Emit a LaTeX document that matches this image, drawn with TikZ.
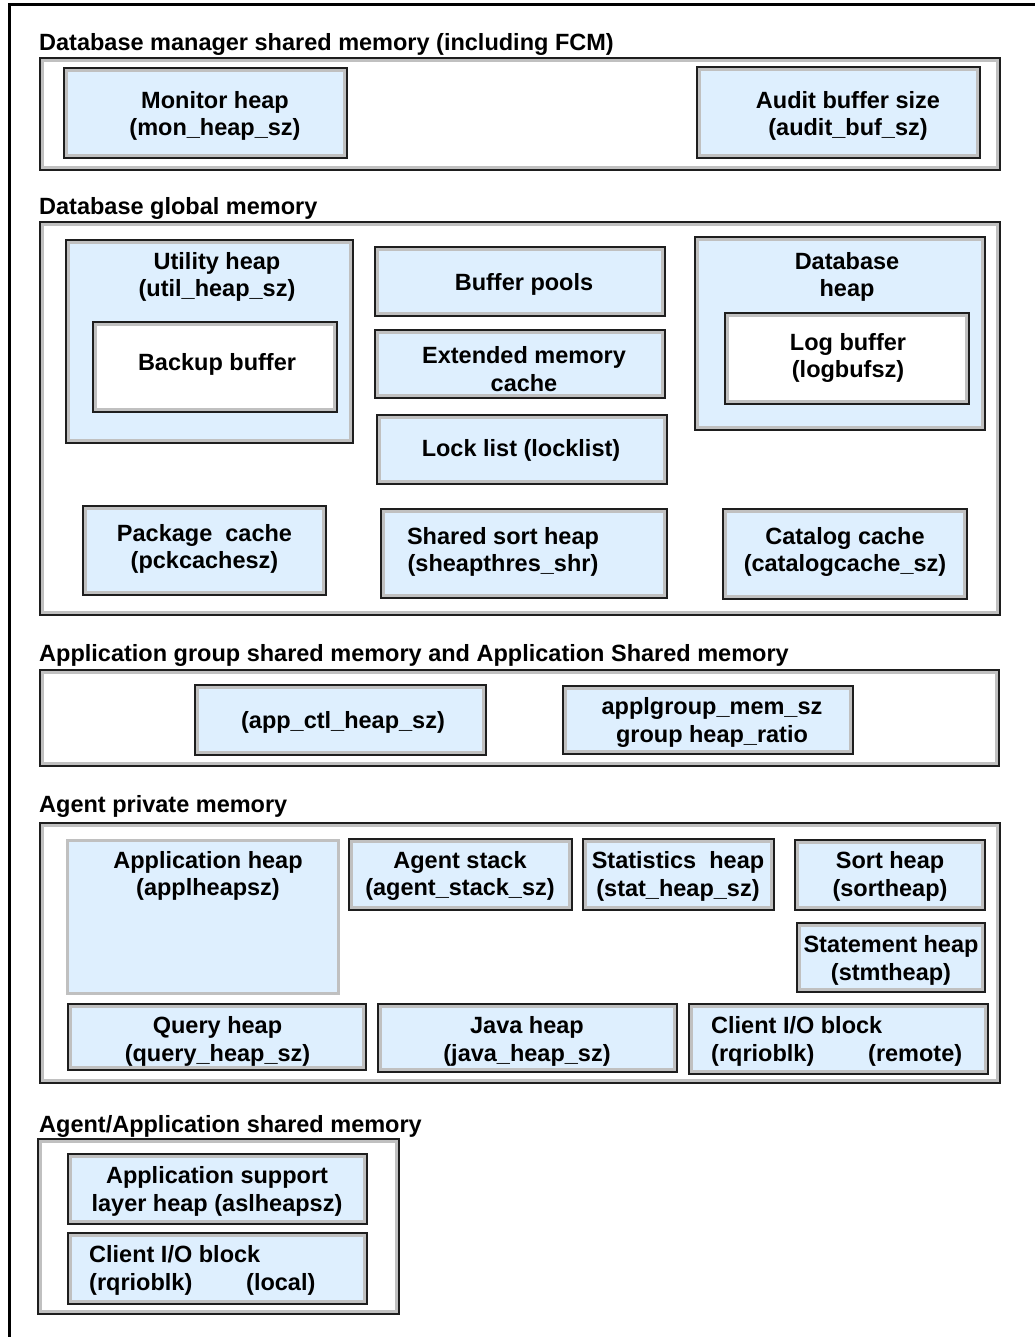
\documentclass[tikz,border=0pt]{standalone}
\usepackage{fontspec}
\setmainfont{Liberation Sans}
\usetikzlibrary{fit}
\definecolor{heapblue}{RGB}{222,239,254}
\definecolor{rimgray}{RGB}{192,192,192}
\definecolor{edgedark}{RGB}{30,30,30}
\tikzset{
  area/.style={draw=edgedark, line width=2pt, fill=white, inner sep=0pt, outer sep=0pt},
  heap/.style={area, fill=heapblue},
  plainheap/.style={draw=rimgray, line width=3pt, fill=heapblue, inner sep=0pt, outer sep=0pt},
  rim/.style={draw=rimgray, line width=3pt},
  lbl/.style={font=\bfseries\fontsize{23.5}{27.5}\selectfont, align=center, inner sep=0pt, yshift=-2pt},
  lbll/.style={lbl, align=left, anchor=west},
  ttl/.style={font=\bfseries\fontsize{23.5}{27.5}\selectfont, anchor=base west, inner sep=0pt},
}
% a framed block with a light inner rim: style, name, two opposite corners
\newcommand\block[4]{%
  \node[#1, fit={#3 #4}] (#2) {};
  \draw[rim] ([xshift=2.5pt,yshift=-2.5pt]#2.north west) rectangle ([xshift=-2.5pt,yshift=2.5pt]#2.south east);
}
\begin{document}
\begin{tikzpicture}[x=1pt, y=-1pt]
\useasboundingbox (0,0) rectangle (1034,1337);
\draw[line width=3pt] (9,1340) -- (9,5) -- (1040,5);

% Database manager shared memory
\node[ttl] (t1) at (39,51) {Database manager shared memory (including FCM)};
\block{area}{dbm}{(40,58)}{(1000,170)}
\block{heap}{mon}{(64,68)}{(347,158)}
\node[lbl] (monT) at (215,114) {Monitor heap\\(mon\_heap\_sz)};
\block{heap}{aud}{(697,67)}{(980,158)}
\node[lbl] (audT) at (848,114) {Audit buffer size\\(audit\_buf\_sz)};

% Database global memory
\node[ttl] (t2) at (39,215) {Database global memory};
\block{area}{dbg}{(40,222)}{(1000,615)}
\block{heap}{util}{(66,240)}{(353,443)}
\node[lbl] (utilT) at (217,275) {Utility heap\\(util\_heap\_sz)};
\block{area}{bak}{(93,322)}{(337,412)}
\node[lbl] (bakT) at (217,362) {Backup buffer};
\block{heap}{bp}{(375,247)}{(665,316)}
\node[lbl] (bpT) at (524,282) {Buffer pools};
\block{heap}{ext}{(375,330)}{(665,398)}
\node[lbl] (extT) at (524,367) {Extended memory\\cache};
\block{heap}{lock}{(377,415)}{(667,484)}
\node[lbl] (lockT) at (521,448) {Lock list (locklist)};
\block{heap}{dbh}{(695,237)}{(985,430)}
\node[lbl] (dbhT) at (847,275) {Database\\heap};
\block{area}{log}{(725,313)}{(969,404)}
\node[lbl] (logT) at (848,356) {Log buffer\\(logbufsz)};
\block{heap}{pkg}{(83,506)}{(326,595)}
\node[lbl] (pkgT) at (204.5,547) {Package\ \ cache\\(pckcachesz)};
\block{heap}{ssh}{(381,509)}{(667,598)}
\node[lbl] (sshT) at (503,550) {Shared sort heap\\(sheapthres\_shr)};
\block{heap}{cat}{(723,509)}{(967,599)}
\node[lbl] (catT) at (845,550) {Catalog cache\\(catalogcache\_sz)};

% Application group shared memory
\node[ttl] (t3) at (39,661) {Application group shared memory and Application Shared memory};
\block{area}{apg}{(40,670)}{(999,766)}
\block{heap}{actl}{(195,685)}{(486,755)}
\node[lbl] (actlT) at (343,720) {(app\_ctl\_heap\_sz)};
\block{heap}{agm}{(563,686)}{(853,754)}
\node[lbl] (agmT) at (712,720.5) {applgroup\_mem\_sz\\group heap\_ratio};

% Agent private memory
\node[ttl] (t4) at (39,812) {Agent private memory};
\block{area}{apm}{(40,823)}{(1000,1083)}
\node[plainheap, fit={(67,840) (338,993)}] (aph) {};
\node[lbl] (aphT) at (208,874) {Application heap\\(applheapsz)};
\block{heap}{ast}{(349,839)}{(572,910)}
\node[lbl] (astT) at (460,874) {Agent stack\\(agent\_stack\_sz)};
\block{heap}{sth}{(583,839)}{(774,910)}
\node[lbl] (sthT) at (678,874.5) {Statistics\ \ heap\\(stat\_heap\_sz)};
\block{heap}{srt}{(795,840)}{(985,910)}
\node[lbl] (srtT) at (890,874.5) {Sort heap\\(sortheap)};
\block{heap}{stm}{(797,923)}{(985,992)}
\node[lbl] (stmT) at (891,958.5) {Statement heap\\(stmtheap)};
\block{heap}{qry}{(68,1004)}{(366,1070)}
\node[lbl] (qryT) at (217.5,1039.5) {Query heap\\(query\_heap\_sz)};
\block{heap}{jav}{(378,1004)}{(677,1072)}
\node[lbl] (javT) at (527,1039.5) {Java heap\\(java\_heap\_sz)};
\block{heap}{cio}{(689,1004)}{(988,1074)}
\node[lbll] (cioT) at (711,1039.5) {Client I/O block\\\makebox[157pt][l]{(rqrioblk)}(remote)};

% Agent/Application shared memory
\node[ttl] (t5) at (39,1132) {Agent/Application shared memory};
\block{area}{aas}{(38,1139)}{(399,1314)}
\block{heap}{asl}{(68,1154)}{(367,1224)}
\node[lbl] (aslT) at (217,1189.5) {Application support\\layer heap (aslheapsz)};
\block{heap}{cil}{(68,1233)}{(367,1304)}
\node[lbll] (cilT) at (89,1268.5) {Client I/O block\\\makebox[157pt][l]{(rqrioblk)}(local)};
\end{tikzpicture}
\end{document}
